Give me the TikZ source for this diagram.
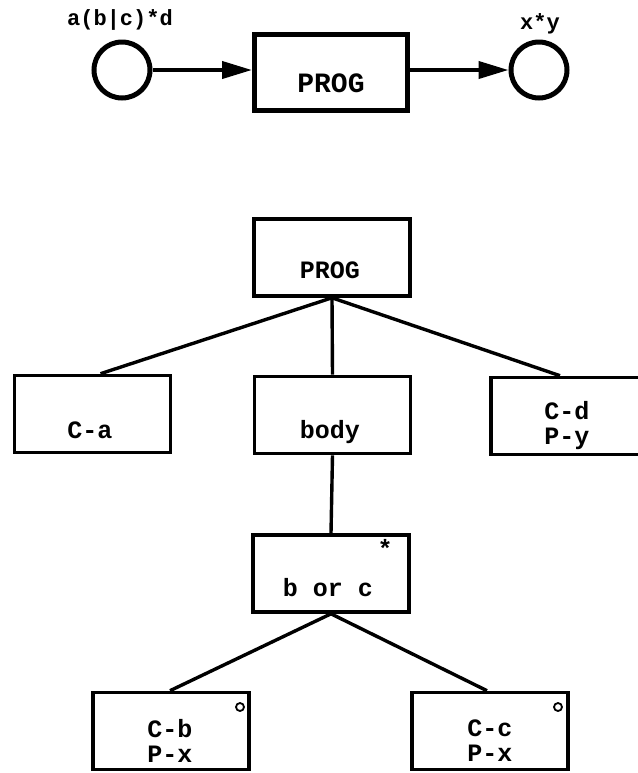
\documentclass[tikz,border=0pt]{standalone}
\usepackage{fontspec}
\setmonofont{Liberation Mono}
\usetikzlibrary{arrows.meta,calc}
\begin{document}
\begin{tikzpicture}[x=0.5pt,y=-0.5pt,
  treebox/.style={draw, line width=1.8pt, minimum width=78pt, minimum height=38.5pt, inner sep=0pt},
  topbox/.style={draw, line width=2.5pt, minimum width=76.5pt, minimum height=38pt, inner sep=0pt},
  place/.style={draw, circle, line width=2.5pt, minimum size=28pt, inner sep=0pt},
  txt/.style={font=\fontsize{12.5}{12.5}\selectfont\ttfamily\bfseries, align=center, inner sep=0pt},
  bigtxt/.style={font=\fontsize{14}{14}\selectfont\ttfamily\bfseries, inner sep=0pt},
  lbl/.style={font=\fontsize{11}{11}\selectfont\ttfamily\bfseries, inner sep=0pt},
  arr/.style={line width=2pt, -{Triangle[length=15pt,width=8.5pt]}},
  conn/.style={line width=1.7pt},
  mark0/.style={draw, circle, line width=0.9pt, minimum size=4pt, inner sep=0pt}
]
\useasboundingbox (0,0) rectangle (638,773);
\clip (0,0) rectangle (638,773);

% top net
\node[place] (c1) at (122,70) {};
\node[topbox] (p0) at (331,72.5) {};
\node[bigtxt] (p0t) at (331,83) {PROG};
\node[place] (c2) at (539,70) {};
\node[lbl] (l1) at (120,20) {a(b|c)*d};
\node[lbl] (l2) at (540,24) {x*y};
\draw[arr] (c1.east) -- (c1.east -| p0.west);
\draw[arr] (p0.east |- c2.west) -- (c2.west);

% tree
\node[treebox] (p2) at (332,257.5) {};
\node[txt] (p2t) at (330,270) {PROG};
\node[treebox] (ca) at (92.5,414) {};
\node[txt] (cat) at (90,430) {C-a};
\node[treebox] (bd) at (332.5,415) {};
\node[txt] (bdt) at (330,432) {body};
\node[treebox] (cd) at (569,416) {};
\node[txt] (cdt) at (567,425.5) {C-d\\P-y};
\node[treebox] (bc) at (331,573.5) {};
\node[txt] (bct) at (328,588) {b or c};
\node[txt] (star) at (385,548) {*};
\node[treebox] (cb) at (171,731) {};
\node[txt] (cbt) at (170,740.5) {C-b\\P-x};
\node[mark0] (cbm) at (240,707) {};
\node[treebox] (cc) at (490,731) {};
\node[txt] (cct) at (490,740.5) {C-c\\P-x};
\node[mark0] (ccm) at (558,707) {};

\draw[conn] (p2.south) -- ($(ca.north)+(8,0)$);
\draw[conn] (p2.south) -- (bd.north);
\draw[conn] (p2.south) -- ($(cd.north)+(-9,0)$);
\draw[conn] (bd.south) -- (bc.north);
\draw[conn] (bc.south) -- ($(cb.north)+(-1,0)$);
\draw[conn] (bc.south) -- ($(cc.north)+(-3,0)$);
\end{tikzpicture}
\end{document}
